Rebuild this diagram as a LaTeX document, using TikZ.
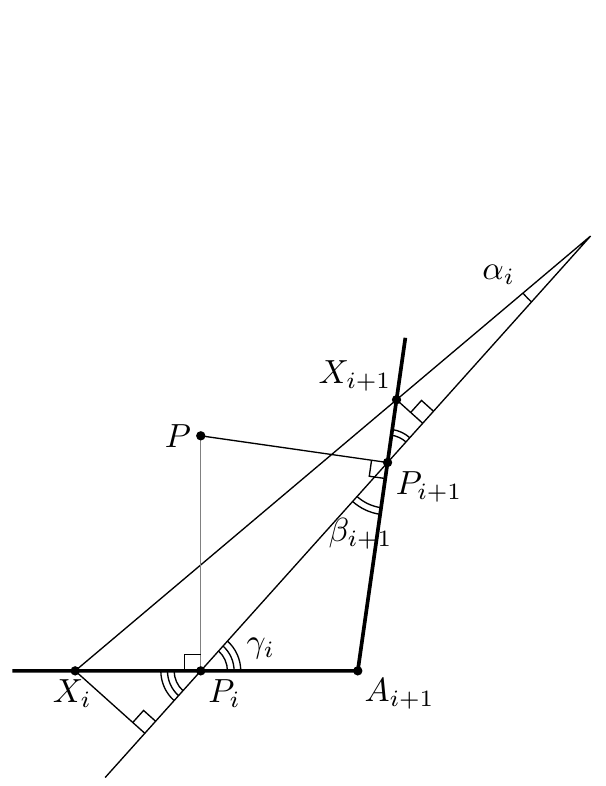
\documentclass[tikz,border=0pt]{standalone}
\usetikzlibrary{calc,angles}

\tikzset{
	side/.style={line width=1.1pt},
	arcmark/.style={draw, angle radius=#1},
	rightmark/.style={draw, angle radius=0.17cm},
}
\newcommand{\pointdot}[1]{\fill (#1) circle (1.4pt);}

\begin{document}
\begin{tikzpicture}
	\useasboundingbox (-2.11,-1.21) rectangle (4.25,7.05);

	% points
	\coordinate (Pi) at (0,0);
	\coordinate (Xi) at (-1.32,0);
	\coordinate (A) at (1.65,0);
	\coordinate (T) at (2.15,3.50);
	\coordinate (L) at (-1.98,0);
	\coordinate (P) at (0,2.47);
	\coordinate (Pn) at ($(A)!(P)!(T)$);
	\coordinate (Xn) at ($(A)!0.814!(T)$);
	\coordinate (O) at (intersection of Pi--Pn and Xi--Xn);
	\coordinate (Q) at ($(Pi)!-0.512!(Pn)$);
	\coordinate (F1) at ($(Pi)!(Xi)!(Pn)$);
	\coordinate (F2) at ($(Pi)!(Xn)!(Pn)$);

	% lines
	\draw[side] (L) -- (A) -- (T);
	\draw (Q) -- (O) -- (Xi);
	\draw (Xi) -- (F1);
	\draw (Xn) -- (F2);
	\draw[gray] (Pi) -- (P);
	\draw (P) -- (Pn);

	% right angles
	\pic[rightmark] {right angle=P--Pi--Xi};
	\pic[rightmark] {right angle=P--Pn--A};
	\pic[rightmark] {right angle=Pn--F1--Xi};
	\pic[rightmark] {right angle=O--F2--Xn};

	% angles
	\pic[arcmark=0.28cm] {angle=A--Pi--Pn};
	\pic[arcmark=0.35cm] {angle=A--Pi--Pn};
	\pic[arcmark=0.42cm] {angle=A--Pi--Pn};
	\pic[arcmark=0.28cm] {angle=Xi--Pi--Q};
	\pic[arcmark=0.35cm] {angle=Xi--Pi--Q};
	\pic[arcmark=0.42cm] {angle=Xi--Pi--Q};
	\pic[arcmark=0.48cm] {angle=Pi--Pn--A};
	\pic[arcmark=0.55cm] {angle=Pi--Pn--A};
	\pic[arcmark=0.29cm] {angle=O--Pn--Xn};
	\pic[arcmark=0.35cm] {angle=O--Pn--Xn};
	\pic[arcmark=0.93cm] {angle=Xi--O--Pi};

	% dots
	\pointdot{Xi}
	\pointdot{Pi}
	\pointdot{A}
	\pointdot{P}
	\pointdot{Pn}
	\pointdot{Xn}

	% labels
	\node (lXi) at (-1.35,-0.24) {$X_i$};
	\node (lPi) at (0.25,-0.24) {$P_i$};
	\node (lA) at (2.09,-0.24) {$A_{i+1}$};
	\node (lP) at (-0.24,2.47) {$P$};
	\node (lPn) at (2.40,1.93) {$P_{i+1}$};
	\node (lXn) at (1.62,3.10) {$X_{i+1}$};
	\node (lbeta) at (1.68,1.44) {$\beta_{i+1}$};
	\node (lgamma) at (0.63,0.23) {$\gamma_i$};
	\node (lalpha) at (3.13,4.16) {$\alpha_i$};
\end{tikzpicture}
\end{document}
